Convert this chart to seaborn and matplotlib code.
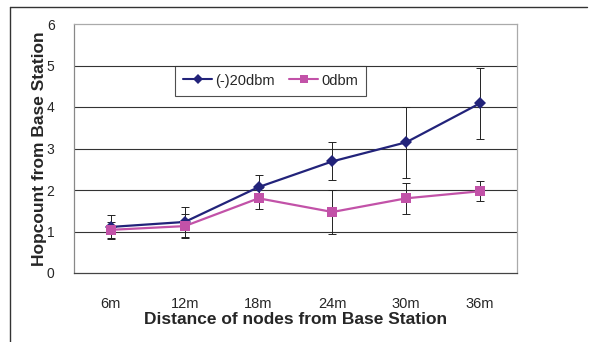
import numpy as np
import pandas as pd
import matplotlib
matplotlib.use("Agg")
import matplotlib.pyplot as plt
import seaborn as sns
from matplotlib.lines import Line2D

distances = ["6m", "12m", "18m", "24m", "30m", "36m"]
hop_m20 = [1.11, 1.23, 2.07, 2.69, 3.15, 4.09]
err_m20 = [0.28, 0.36, 0.29, 0.46, 0.86, 0.86]
hop_0 = [1.04, 1.13, 1.80, 1.47, 1.80, 1.97]
err_0 = [0.20, 0.28, 0.25, 0.52, 0.37, 0.24]
series_names = ["(-)20dbm", "0dbm"]

blue = "#22237A"
pink = "#C252A8"

df = pd.DataFrame({
    "pos": list(range(len(distances))) * 2,
    "hop": hop_m20 + hop_0,
    "err": err_m20 + err_0,
    "series": [series_names[0]] * 6 + [series_names[1]] * 6,
})

sns.set_style("white")
plt.rcParams["font.family"] = ["Liberation Sans", "DejaVu Sans"]

fig = plt.figure(figsize=(5.95, 3.42), dpi=100)
ax = fig.add_axes([74 / 595, 1 - 273 / 342, 443 / 595, 249 / 342])

for name in series_names:
    d = df[df["series"] == name]
    ax.errorbar(d["pos"], d["hop"], yerr=d["err"], fmt="none",
                ecolor="#222222", elinewidth=0.7, capsize=3, capthick=0.7, zorder=3)

sns.lineplot(data=df, x="pos", y="hop", hue="series", style="series",
             palette=[blue, pink], markers=["D", "s"], dashes=False,
             markersize=6.5, linewidth=1.6, markeredgewidth=0, ax=ax, zorder=4,
             legend=False)

ax.set_xlim(-0.5, 5.5)
ax.set_ylim(0, 6)
ax.set_yticks(range(7))
ax.set_xticks(np.arange(-0.5, 6, 1))
ax.set_xticklabels([])
ax.set_xticks(range(len(distances)), minor=True)
ax.set_xticklabels(distances, minor=True, fontsize=10.5)
ax.tick_params(axis="x", which="major", direction="out", length=5, color="#444444", width=0.8)
ax.tick_params(axis="x", which="minor", length=0, pad=17)
ax.tick_params(axis="y", direction="out", length=6, color="#444444", width=0.8, labelsize=10, pad=8)

for y in range(1, 6):
    ax.axhline(y, color="#333333", lw=0.8, zorder=1)

for side, col in [("left", "#888888"), ("bottom", "#444444"), ("top", "#aaaaaa"), ("right", "#aaaaaa")]:
    ax.spines[side].set_visible(True)
    ax.spines[side].set_color(col)
    ax.spines[side].set_linewidth(0.9)

ax.set_xlabel("Distance of nodes from Base Station", fontsize=12.5, fontweight="bold", labelpad=1)
ax.set_ylabel("Hopcount from Base Station", fontsize=12.5, fontweight="bold", labelpad=0)

handles = [Line2D([], [], color=blue, marker="D", markersize=5, lw=1.5, markeredgewidth=0),
           Line2D([], [], color=pink, marker="s", markersize=6, lw=1.5, markeredgewidth=0)]
leg = ax.legend(handles, series_names, loc="upper left", bbox_to_anchor=(0.228, 0.833),
                ncol=2, fontsize=10.5, frameon=True, fancybox=False, shadow=False,
                handlelength=2.0, handletextpad=0.2, columnspacing=1.0, borderpad=0.55,
                borderaxespad=0)
leg.get_frame().set_edgecolor("#222222")
leg.get_frame().set_linewidth(0.8)

fig.add_artist(Line2D([10 / 595, 587 / 595], [1 - 7 / 342, 1 - 7 / 342],
                      transform=fig.transFigure, color="#333333", lw=1))
fig.add_artist(Line2D([10 / 595, 10 / 595], [1 - 7 / 342, 0],
                      transform=fig.transFigure, color="#333333", lw=1))

fig.savefig("out.png", dpi=100)
